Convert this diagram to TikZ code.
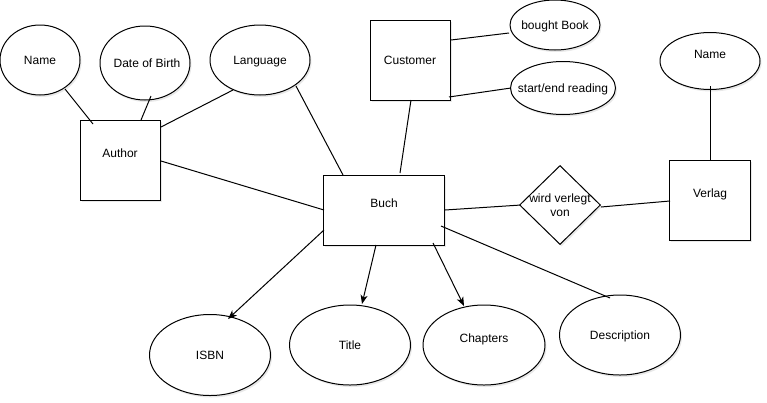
\documentclass[tikz,border=0pt]{standalone}
\usepackage{fontspec}
\setmainfont{Liberation Sans}
\usetikzlibrary{shapes.geometric,arrows.meta,calc,shadows}
\begin{document}
\begin{tikzpicture}[x=1pt,y=-1pt,
  line width=1pt,
  shd/.style={drop shadow={shadow xshift=1.5pt,shadow yshift=-2pt,opacity=0.15,fill=black!60}},
  ent/.style={draw,fill=white,rectangle,inner sep=0pt,shd},
  attr/.style={draw,fill=white,ellipse,inner sep=0pt,shd},
  rel/.style={draw,fill=white,diamond,inner sep=0pt,shd},
  lbl/.style={font=\fontsize{12}{13.5}\selectfont,inner sep=0pt,text height=8.6pt,text depth=0pt},
  link/.style={draw,line width=1pt},
  arr/.style={link,-{Stealth[length=9pt,width=7pt,inset=2.5pt]}},
]
\useasboundingbox (0,0) rectangle (767,402);

% entities
\node[ent,minimum width=80pt,minimum height=80pt,label={[lbl,yshift=7pt]center:Author}] (author) at (120,160) {};
\node[ent,minimum width=80pt,minimum height=80pt,label={[lbl]center:Customer}] (customer) at (410,60) {};
\node[ent,minimum width=121pt,minimum height=70pt,label={[lbl,yshift=7pt]center:Buch}] (buch) at (384,210) {};
\node[ent,minimum width=81pt,minimum height=80pt,label={[lbl,yshift=7pt]center:Verlag}] (verlag) at (710,200) {};
\node[rel,minimum width=81pt,minimum height=79pt,label={[lbl,align=center,text height=,text depth=]center:wird verlegt\\von}] (rel) at (560,205) {};

% attributes
\node[attr,minimum width=80pt,minimum height=70pt,label={[lbl]center:Name}] (name1) at (40,60) {};
\node[attr,minimum width=90pt,minimum height=74pt,label={[lbl,xshift=2pt]center:Date of Birth}] (dob) at (145,63) {};
\node[attr,minimum width=100pt,minimum height=70pt,label={[lbl]center:Language}] (lang) at (260,60) {};
\node[attr,minimum width=90pt,minimum height=50pt,label={[lbl]center:bought Book}] (bought) at (555,25) {};
\node[attr,minimum width=105pt,minimum height=53pt,label={[lbl]center:start/end reading}] (startend) at (563,88) {};
\node[attr,minimum width=100pt,minimum height=57pt,label={[lbl,yshift=7pt]center:Name}] (name2) at (710,61) {};
\node[attr,minimum width=121pt,minimum height=81pt,label={[lbl]center:ISBN}] (isbn) at (210,355) {};
\node[attr,minimum width=121pt,minimum height=80pt,label={[lbl]center:Title}] (title) at (350,345) {};
\node[attr,minimum width=122pt,minimum height=80pt,label={[lbl,yshift=7pt]center:Chapters}] (chapters) at (484,345) {};
\node[attr,minimum width=121pt,minimum height=80pt,label={[lbl]center:Description}] (descr) at (620,335) {};

% connectors
\draw[link] ($(name1.center)+(25,29)$) -- ($(author.center)+(-27,-36)$);
\draw[link] ($(dob.center)+(6,33)$) -- ($(author.center)+(21,-40)$);
\draw[link] ($(lang.center)+(-27,30)$) -- ($(author.center)+(41,-33)$);
\draw[link] ($(lang.center)+(36,26)$) -- ($(buch.center)+(-41,-35)$);
\draw[link] ($(author.center)+(41,1)$) -- ($(buch.center)+(-60,0)$);
\draw[link] ($(customer.center)+(1,40)$) -- ($(buch.center)+(16,-37)$);
\draw[link] ($(customer.center)+(41,-20)$) -- ($(bought.center)+(-46,8)$);
\draw[link] ($(customer.center)+(39,37)$) -- ($(startend.center)+(-52,0)$);
\draw[link] ($(buch.center)+(61,0)$) -- ($(rel.center)+(-39,0)$);
\draw[link] ($(rel.center)+(41,2)$) -- ($(verlag.center)+(-40,1)$);
\draw[link] ($(name2.center)+(0,25)$) -- ($(verlag.center)+(0,-40)$);
\draw[arr] ($(buch.center)+(-60,20)$) -- ($(isbn.center)+(18,-36)$);
\draw[arr] ($(buch.center)+(-8,35)$) -- ($(title.center)+(12,-41)$);
\draw[arr] ($(buch.center)+(49,33)$) -- ($(chapters.center)+(-20,-39)$);
\draw[link] ($(buch.center)+(57,16)$) -- ($(descr.center)+(-10,-37)$);
\end{tikzpicture}
\end{document}
